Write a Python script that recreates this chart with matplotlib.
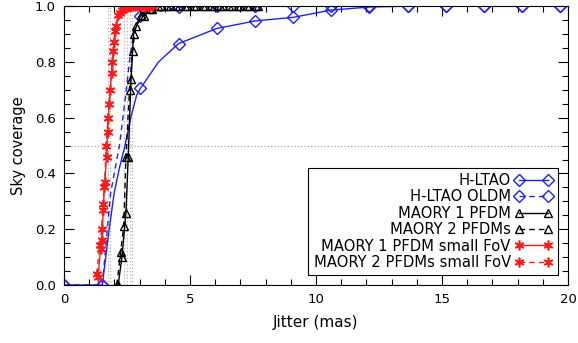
import matplotlib
matplotlib.use("Agg")
import matplotlib.pyplot as plt
import numpy as np
from matplotlib.ticker import MultipleLocator

plt.rcParams["font.family"] = ["DejaVu Sans"]

# H-LTAO (solid) and H-LTAO OLDM (dashed); markers only on every sampled jitter step
hltao_x = [0.0, 1.52, 1.75, 1.99, 2.2, 2.42, 2.65, 2.88, 3.03, 3.75, 4.55, 6.06,
           7.58, 9.1, 10.6, 12.12, 13.64, 15.15, 16.67, 18.18, 19.7]
hltao_y = [0.0, 0.0, 0.17, 0.33, 0.42, 0.5, 0.6, 0.68, 0.705, 0.80, 0.866, 0.92,
           0.947, 0.96, 0.986, 0.997, 1.0, 1.0, 1.0, 1.0, 1.0]
hltao_mk = [0, 1, 8, 10, 11, 12, 13, 14, 15, 16, 17, 18, 19, 20]

oldm_x = [0.0, 1.52, 1.85, 2.2, 2.42, 2.62, 2.8, 3.03, 4.55, 6.06, 7.58, 9.1,
          10.6, 12.12, 13.64, 15.15, 16.67, 18.18, 19.7]
oldm_y = [0.0, 0.0, 0.33, 0.5, 0.66, 0.82, 0.92, 0.965, 0.997, 1.0, 1.0, 1.0,
          1.0, 1.0, 1.0, 1.0, 1.0, 1.0, 1.0]
oldm_mk = [0, 1, 7, 8, 9, 10, 11, 12, 13, 14, 15, 16, 17, 18]

# MAORY with one / two post-focal DMs
m1_x = [2.15, 2.3, 2.46, 2.55, 2.66, 2.76, 3.05, 3.4, 3.75, 4.1, 4.45, 4.8,
        5.15, 5.5, 5.85, 6.2, 6.55, 6.9, 7.25, 7.6]
m1_y = [0.0, 0.1, 0.26, 0.46, 0.74, 0.90, 0.97, 0.99, 1.0, 1.0, 1.0, 1.0,
        1.0, 1.0, 1.0, 1.0, 1.0, 1.0, 1.0, 1.0]
m2_x = [2.1, 2.25, 2.37, 2.46, 2.6, 2.72, 2.85, 3.16, 3.5, 3.85, 4.2, 4.55,
        4.9, 5.25, 5.6, 5.95, 6.3, 6.65, 7.0, 7.35, 7.7]
m2_y = [0.0, 0.12, 0.21, 0.46, 0.70, 0.84, 0.93, 0.965, 0.99, 1.0, 1.0, 1.0,
        1.0, 1.0, 1.0, 1.0, 1.0, 1.0, 1.0, 1.0, 1.0]

# small field of view cases
s1_x = [1.35, 1.45, 1.5, 1.56, 1.6, 1.69, 1.73, 1.79, 1.89, 1.96, 2.02, 2.15,
        2.3, 2.45, 2.6, 2.75, 2.9, 3.05, 3.2, 3.35, 3.5]
s1_y = [0.03, 0.13, 0.16, 0.27, 0.35, 0.46, 0.55, 0.65, 0.76, 0.84, 0.91, 0.97,
        0.985, 0.993, 0.997, 1.0, 1.0, 1.0, 1.0, 1.0, 1.0]
s2_x = [1.3, 1.42, 1.49, 1.54, 1.62, 1.67, 1.75, 1.84, 1.92, 1.99, 2.08, 2.22,
        2.37, 2.52, 2.67, 2.82, 2.97, 3.12, 3.27, 3.42]
s2_y = [0.04, 0.145, 0.2, 0.29, 0.37, 0.5, 0.6, 0.7, 0.8, 0.87, 0.93, 0.975,
        0.99, 0.996, 1.0, 1.0, 1.0, 1.0, 1.0, 1.0]

# jitter at 50% sky coverage
half_x = [1.73, 1.83, 2.4, 2.5, 2.6, 2.7]

labels = ["H-LTAO", "H-LTAO OLDM", "MAORY 1 PFDM", "MAORY 2 PFDMs",
          "MAORY 1 PFDM small FoV", "MAORY 2 PFDMs small FoV"]

blue = "#1f1fff"
red = "#ff1a1a"
star = (6, 2, 0)

fig = plt.figure(figsize=(5.78, 3.43), dpi=100)
ax = fig.add_axes([0.1107, 0.169, 0.872, 0.813])

ax.axhline(0.5, color="#999999", lw=0.8, ls=(0, (1, 2)), zorder=1)
for xv in half_x:
    ax.axvline(xv, color="#aaaaaa", lw=0.8, ls=(0, (1, 2)), zorder=1)

ax.plot(hltao_x, hltao_y, color=blue, lw=1, marker="D", ms=6, mfc="none",
        mec=blue, mew=1, markevery=hltao_mk, label=labels[0])
ax.plot(oldm_x, oldm_y, color=blue, lw=1, ls=(0, (4, 3)), marker="D", ms=6,
        mfc="none", mec=blue, mew=1, markevery=oldm_mk, label=labels[1])
ax.plot(m1_x, m1_y, color="black", lw=1, marker="^", ms=6, mfc="none",
        mew=1, label=labels[2])
ax.plot(m2_x, m2_y, color="black", lw=1, ls=(0, (4, 3)), marker="^", ms=6,
        mfc="none", mew=1, label=labels[3])
ax.plot(s1_x, s1_y, color=red, lw=1, marker=star, ms=7, mew=1.2,
        label=labels[4])
ax.plot(s2_x, s2_y, color=red, lw=1, ls=(0, (4, 3)), marker=star, ms=7,
        mew=1.2, label=labels[5])

ax.set_xlim(0, 20)
ax.set_ylim(0, 1)
ax.xaxis.set_major_locator(MultipleLocator(5))
ax.xaxis.set_minor_locator(MultipleLocator(1))
ax.yaxis.set_major_locator(MultipleLocator(0.2))
ax.yaxis.set_minor_locator(MultipleLocator(0.05))
ax.yaxis.set_major_formatter(matplotlib.ticker.FormatStrFormatter("%.1f"))
ax.tick_params(which="both", direction="in", top=True, right=True,
               labelsize=9.5, width=0.8, pad=6)
ax.tick_params(which="major", length=7)
ax.tick_params(which="minor", length=4)
for s in ax.spines.values():
    s.set_linewidth(0.8)

ax.set_xlabel("Jitter (mas)", fontsize=11, labelpad=6)
ax.set_ylabel("Sky coverage", fontsize=10.5, labelpad=6)

leg = ax.legend(loc="lower right", bbox_to_anchor=(0.98, 0.035),
                markerfirst=False, numpoints=2, handlelength=2.6,
                handletextpad=0.25, fontsize=10.6, fancybox=False,
                framealpha=1, edgecolor="black", borderaxespad=0,
                labelspacing=0.1, borderpad=0.35)
leg.get_frame().set_linewidth(0.8)
# right-align the label column against the handles
for col in leg._legend_handle_box.get_children():
    col.align = "right"

fig.savefig("out.png", dpi=100)
